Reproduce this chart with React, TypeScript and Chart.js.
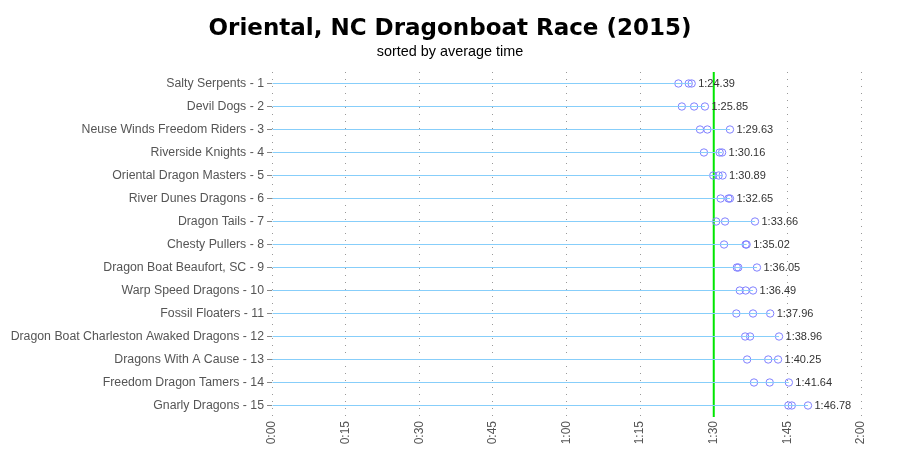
import React, { useEffect, useRef } from "react";
import { Chart, registerables } from "chart.js";
Chart.register(...registerables);

const teams = [
  "Salty Serpents - 1",
  "Devil Dogs - 2",
  "Neuse Winds Freedom Riders - 3",
  "Riverside Knights - 4",
  "Oriental Dragon Masters - 5",
  "River Dunes Dragons - 6",
  "Dragon Tails - 7",
  "Chesty Pullers - 8",
  "Dragon Boat Beaufort, SC - 9",
  "Warp Speed Dragons - 10",
  "Fossil Floaters - 11",
  "Dragon Boat Charleston Awaked Dragons - 12",
  "Dragons With A Cause - 13",
  "Freedom Dragon Tamers - 14",
  "Gnarly Dragons - 15",
];

// race times in seconds
const raceA = [82.8, 83.5, 87.2, 88.0, 89.9, 91.4, 90.5, 92.1, 94.7, 95.3, 94.6, 96.4, 96.8, 98.2, 105.2];
const raceB = [84.9, 86.0, 88.7, 91.2, 91.0, 93.0, 92.3, 96.5, 95.0, 96.5, 98.0, 97.4, 101.1, 101.4, 105.9];
const raceC = [85.5, 88.2, 93.3, 91.7, 91.8, 93.3, 98.4, 96.7, 98.8, 98.0, 101.5, 103.3, 103.1, 105.3, 109.2];
const averages = [84.39, 85.85, 89.63, 90.16, 90.89, 92.65, 93.66, 95.02, 96.05, 96.49, 97.96, 98.96, 100.25, 101.64, 106.78];
const referenceTime = 90;
const xMin = 0;
const xMax = 120;
const xStep = 15;

const fmtTick = (v: number) => `${Math.floor(v / 60)}:${String(Math.round(v % 60)).padStart(2, "0")}`;
const fmtAvg = (v: number) => `${Math.floor(v / 60)}:${(v % 60).toFixed(2).padStart(5, "0")}`;

const FONT = "'Liberation Sans', Arial, sans-serif";
const TITLE_FONT = "'DejaVu Sans', Verdana, sans-serif";

export default function App() {
  const ref = useRef<HTMLCanvasElement | null>(null);
  useEffect(() => {
    document.body.style.margin = "0";
    const maxes = teams.map((_, i) => Math.max(raceA[i], raceB[i], raceC[i]));
    const pts = (arr: number[]) => arr.map((v, i) => ({ x: v, y: teams[i] }));
    const pointStyle = {
      type: "scatter" as const,
      pointRadius: 3.7,
      pointBorderColor: "#8080ff",
      pointBackgroundColor: "rgba(0,0,0,0)",
      pointBorderWidth: 1,
      borderColor: "#8080ff",
      backgroundColor: "rgba(0,0,0,0)",
      showLine: false,
    };
    const overlay = {
      id: "overlay",
      beforeDatasetsDraw(chart: any) {
        const { ctx, chartArea, scales } = chart;
        const x = scales.x.getPixelForValue(referenceTime);
        ctx.save();
        ctx.strokeStyle = "#00e600";
        ctx.lineWidth = 2;
        ctx.beginPath();
        ctx.moveTo(x, chartArea.top);
        ctx.lineTo(x, chartArea.bottom);
        ctx.stroke();
        ctx.restore();
      },
      afterDatasetsDraw(chart: any) {
        const { ctx, scales } = chart;
        ctx.save();
        ctx.font = `11px ${FONT}`;
        ctx.fillStyle = "#333";
        ctx.textAlign = "left";
        ctx.textBaseline = "middle";
        teams.forEach((t, i) => {
          const x = scales.x.getPixelForValue(maxes[i]) + 6.5;
          const y = scales.y.getPixelForValue(i);
          ctx.fillText(fmtAvg(averages[i]), x, y);
        });
        ctx.restore();
      },
    };
    const chart = new Chart(ref.current!, {
      type: "bar",
      data: {
        labels: teams,
        datasets: [
          {
            type: "bar",
            data: maxes.map((m) => [0, m]) as any,
            backgroundColor: "#87cefa",
            borderWidth: 0,
            barThickness: 1,
            inflateAmount: 0,
          } as any,
          { ...pointStyle, data: pts(raceA) } as any,
          { ...pointStyle, data: pts(raceB) } as any,
          { ...pointStyle, data: pts(raceC) } as any,
        ],
      },
      options: {
        indexAxis: "y",
        animation: false,
        responsive: false,
        layout: { padding: 0 },
        plugins: {
          legend: { display: false },
          tooltip: { enabled: false },
          title: {
            display: true,
            text: "Oriental, NC Dragonboat Race (2015)",
            color: "#000",
            font: { family: TITLE_FONT, size: 23, weight: "bold" },
            padding: { top: 15, bottom: 1.2 },
          },
          subtitle: {
            display: true,
            text: "sorted by average time",
            color: "#000",
            font: { family: FONT, size: 14.4 },
            padding: { top: 0, bottom: 10.92 },
          },
        },
        scales: {
          x: {
            type: "linear",
            min: xMin,
            max: xMax,
            ticks: {
              stepSize: xStep,
              callback: (v: any) => fmtTick(Number(v)),
              minRotation: 90,
              maxRotation: 90,
              color: "#555",
              font: { family: FONT, size: 12 },
              padding: 4,
            },
            grid: {
              color: "#999",
              drawTicks: false,
            },
            border: { display: false, dash: [1, 6] },
            afterFit: (s: any) => {
              s.height = 33;
            },
          },
          y: {
            type: "category",
            offset: true,
            ticks: {
              color: "#555",
              font: { family: FONT, size: 12.3 },
              padding: 3,
            },
            grid: {
              display: true,
              drawOnChartArea: false,
              offset: false,
              tickLength: 5,
              color: "#888",
            },
            border: { display: false },
            afterFit: (s: any) => {
              s.width = 272;
            },
          },
          yRight: {
            type: "category",
            position: "right",
            display: true,
            ticks: { display: false },
            grid: { display: false },
            border: { display: false },
            afterFit: (s: any) => {
              s.width = 39;
            },
          },
        },
      } as any,
      plugins: [overlay],
    });
    return () => chart.destroy();
  }, []);
  return (
    <div style={{ width: 900, height: 450 }}>
      <canvas ref={ref} width={900} height={450} />
    </div>
  );
}
